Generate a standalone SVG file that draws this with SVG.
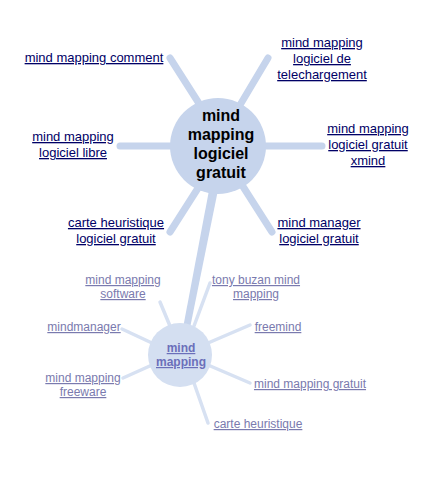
<svg xmlns="http://www.w3.org/2000/svg" width="435" height="481" viewBox="0 0 435 481">
<style>
.sp{stroke:#c6d4ec;stroke-width:7;stroke-linecap:round;fill:none}
.sp2{stroke:#d7e1f2;stroke-width:3.5;stroke-linecap:round;fill:none}
.l1{font-family:"Liberation Sans",Arial,sans-serif;font-size:13px;fill:#000066;text-decoration:underline;text-anchor:middle}
.l2{font-family:"Liberation Sans",Arial,sans-serif;font-size:12px;fill:#7a7aae;text-decoration:underline;text-anchor:middle}
.c1{font-family:"Liberation Sans",Arial,sans-serif;font-size:16px;font-weight:bold;fill:#000;text-anchor:middle}
.c2{font-family:"Liberation Sans",Arial,sans-serif;font-size:12px;font-weight:bold;fill:#6b6fba;text-decoration:underline;text-anchor:middle}
</style>
<rect width="435" height="481" fill="#fff"/>
<g id="connectors">
<line class="sp" x1="170" y1="58" x2="200" y2="105"/>
<line class="sp" x1="268" y1="58" x2="240" y2="105"/>
<line class="sp" x1="120" y1="146" x2="175" y2="146"/>
<line class="sp" x1="265" y1="146" x2="322" y2="146"/>
<line class="sp" x1="170" y1="232" x2="200" y2="185"/>
<line class="sp" x1="272" y1="232" x2="242" y2="185"/>
<polygon points="210,185 219,185 190,328 183,328" fill="#c6d4ec"/>
<line class="sp2" x1="160" y1="302" x2="170" y2="326"/>
<line class="sp2" x1="210" y1="283" x2="194" y2="326"/>
<line class="sp2" x1="122" y1="329" x2="152" y2="343"/>
<line class="sp2" x1="250" y1="325" x2="208" y2="343"/>
<line class="sp2" x1="123" y1="378" x2="152" y2="365"/>
<line class="sp2" x1="250" y1="383" x2="208" y2="365"/>
<line class="sp2" x1="194" y1="383" x2="208" y2="423"/>
</g>
<g id="main">
<circle cx="218" cy="146" r="48" fill="#c6d4ec"/>
<text class="c1" x="221" y="121">mind</text>
<text class="c1" x="221" y="140">mapping</text>
<text class="c1" x="221" y="159">logiciel</text>
<text class="c1" x="221" y="178">gratuit</text>
</g>
<g id="sub">
<circle cx="180" cy="355" r="32" fill="#d4dff1"/>
<text class="c2" x="181" y="352">mind</text>
<text class="c2" x="181" y="366">mapping</text>
</g>
<g id="n-comment"><text class="l1" x="94" y="62">mind mapping comment</text></g>
<g id="n-telechargement">
<text class="l1" x="322" y="47">mind mapping</text>
<text class="l1" x="322" y="63">logiciel de</text>
<text class="l1" x="322" y="79">telechargement</text>
</g>
<g id="n-libre">
<text class="l1" x="73" y="141">mind mapping</text>
<text class="l1" x="73" y="157">logiciel libre</text>
</g>
<g id="n-xmind">
<text class="l1" x="368" y="133">mind mapping</text>
<text class="l1" x="368" y="149">logiciel gratuit</text>
<text class="l1" x="368" y="165">xmind</text>
</g>
<g id="n-carte-gratuit">
<text class="l1" x="116" y="227">carte heuristique</text>
<text class="l1" x="116" y="243">logiciel gratuit</text>
</g>
<g id="n-manager">
<text class="l1" x="319" y="227">mind manager</text>
<text class="l1" x="319" y="243">logiciel gratuit</text>
</g>
<g id="n-software">
<text class="l2" x="123" y="284">mind mapping</text>
<text class="l2" x="123" y="298">software</text>
</g>
<g id="n-buzan">
<text class="l2" x="256" y="284">tony buzan mind</text>
<text class="l2" x="256" y="298">mapping</text>
</g>
<g id="n-mindmanager"><text class="l2" x="84" y="331">mindmanager</text></g>
<g id="n-freemind"><text class="l2" x="278" y="331">freemind</text></g>
<g id="n-freeware">
<text class="l2" x="83" y="382">mind mapping</text>
<text class="l2" x="83" y="396">freeware</text>
</g>
<g id="n-gratuit"><text class="l2" x="310" y="388">mind mapping gratuit</text></g>
<g id="n-carte"><text class="l2" x="258" y="428">carte heuristique</text></g>
</svg>
